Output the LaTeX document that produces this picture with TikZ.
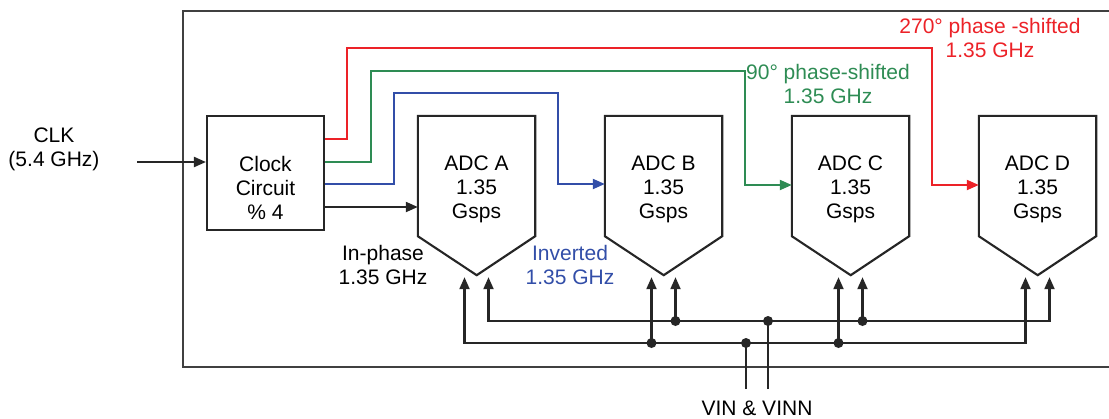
\documentclass[tikz,border=0pt]{standalone}
\usepackage{fontspec}
\setmainfont{Liberation Sans}
\usetikzlibrary{arrows.meta}
\definecolor{clkred}{RGB}{236,34,40}
\definecolor{clkgreen}{RGB}{46,140,84}
\definecolor{clkblue}{RGB}{50,78,168}

\begin{document}
\begin{tikzpicture}[x=1pt, y=-1pt,
  wire/.style={line width=2.1pt, draw=black!85},
  arrow/.style={wire, -{Triangle[length=12pt, width=10pt]}},
  inarrow/.style={wire, {Triangle[length=12pt, width=10pt]}-},
  bothways/.style={wire, {Triangle[length=12pt, width=10pt]}-{Triangle[length=12pt, width=10pt]}},
  box/.style={rectangle, wire, minimum width=117pt, minimum height=114pt, inner sep=0pt},
  adc/.style={rectangle, minimum width=117pt, minimum height=120pt, inner sep=0pt},
  txt/.style={align=center, font=\fontsize{21}{24}\selectfont, inner sep=0pt},
  dot/.style={circle, fill=black!85, inner sep=0pt, minimum size=10pt}
]
  \useasboundingbox (0,0) rectangle (1109,418);

  % Board
  \node[draw=black!75, line width=1.8pt, minimum width=929pt, minimum height=356pt, inner sep=0pt] (board) at (647.5,189) {};

  % Clock input
  \node[txt] (clk) at (54,149) {CLK\\(5.4 GHz)};
  \node[box] (clock) at (265.5,173) {};
  \node[txt] (clocktxt) at (265.5,188) {Clock\\Circuit\\\% 4};
  \coordinate (clkin) at (137,162);
  \draw[arrow] (clkin) -- (clkin -| clock.west);

  % ADCs
  \node[adc] (adcA) at (476.5,176) {};
  \node[adc] (adcB) at (663.5,176) {};
  \node[adc] (adcC) at (850.5,176) {};
  \node[adc] (adcD) at (1037.5,176) {};
  \draw[wire] (adcA.south west) |- (adcA.north east) -- (adcA.south east) -- ++(-58.5,39) -- cycle;
  \draw[wire] (adcB.south west) |- (adcB.north east) -- (adcB.south east) -- ++(-58.5,39) -- cycle;
  \draw[wire] (adcC.south west) |- (adcC.north east) -- (adcC.south east) -- ++(-58.5,39) -- cycle;
  \draw[wire] (adcD.south west) |- (adcD.north east) -- (adcD.south east) -- ++(-58.5,39) -- cycle;
  \node[txt] (adcAtxt) at (476.5,189) {ADC A\\1.35\\Gsps};
  \node[txt] (adcBtxt) at (663.5,189) {ADC B\\1.35\\Gsps};
  \node[txt] (adcCtxt) at (850.5,189) {ADC C\\1.35\\Gsps};
  \node[txt] (adcDtxt) at (1037.5,189) {ADC D\\1.35\\Gsps};

  % Clock phases
  \draw[arrow] (clock.east |- 0,207) -- (adcA.west |- 0,207);
  \draw[arrow, draw=clkblue] (clock.east |- 0,184) -| (394,93) -| (558,184) -- (adcB.west |- 0,184);
  \draw[arrow, draw=clkgreen] (clock.east |- 0,162) -| (371,71) -| (745,185) -- (adcC.west |- 0,185);
  \draw[arrow, draw=clkred] (clock.east |- 0,139) -| (347,48) -| (932,185) -- (adcD.west |- 0,185);

  \node[txt] (inphase) at (383,265) {In-phase\\1.35 GHz};
  \node[txt, text=clkblue] (inverted) at (570,265) {Inverted\\1.35 GHz};
  \node[txt, text=clkgreen] (shift90) at (828,84) {90° phase-shifted\\1.35 GHz};
  \node[txt, text=clkred] (shift270) at (990,38) {270° phase -shifted\\1.35 GHz};

  % Analog inputs
  \coordinate (vinbus) at (746,343);
  \coordinate (vinnbus) at (768,321);
  \coordinate (vin) at (746,389);
  \coordinate (vinn) at (768,389);
  \draw[bothways] ([xshift=-12pt,yshift=-41pt]adcA.south) |- (vinbus) -| ([xshift=-12pt,yshift=-41pt]adcD.south);
  \draw[bothways] ([xshift=12pt,yshift=-41pt]adcA.south) |- (vinnbus) -| ([xshift=12pt,yshift=-41pt]adcD.south);
  \draw[inarrow] ([xshift=-12pt,yshift=-41pt]adcB.south) |- node[dot] (jB1) {} (vinbus);
  \draw[inarrow] ([xshift=12pt,yshift=-41pt]adcB.south) |- node[dot] (jB2) {} (vinnbus);
  \draw[inarrow] ([xshift=-12pt,yshift=-41pt]adcC.south) |- node[dot] (jC1) {} (vinbus);
  \draw[inarrow] ([xshift=12pt,yshift=-41pt]adcC.south) |- node[dot] (jC2) {} (vinnbus);
  \draw[wire] (vin) -- (vinbus) node[dot] (jvin) {};
  \draw[wire] (vinn) -- (vinnbus) node[dot] (jvinn) {};
  \node[txt] (vinlabel) at (757,408) {VIN \& VINN};
\end{tikzpicture}
\end{document}
